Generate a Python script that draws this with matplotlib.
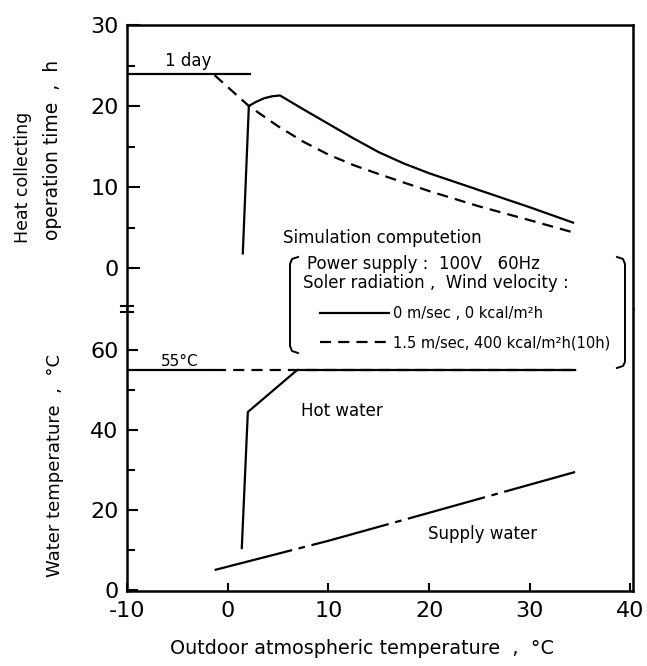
import matplotlib
matplotlib.use("Agg")
import matplotlib.pyplot as plt
from matplotlib.lines import Line2D

plt.rcParams["axes.unicode_minus"] = False

# operation time (h) vs outdoor temperature (deg C)
time_calm_x = [1.5, 2.1, 2.8, 3.6, 4.4, 5.2, 7.5, 10, 12.5, 15, 17.5, 20, 25, 30, 34.3]
time_calm_y = [1.8, 20.0, 20.5, 20.95, 21.2, 21.3, 19.6, 17.8, 16.0, 14.3, 12.9, 11.7, 9.6, 7.5, 5.6]
time_wind_x = [-1.3, 2.1, 5, 7.5, 10, 12.5, 15, 20, 25, 30, 34.3]
time_wind_y = [23.8, 20.0, 17.5, 15.6, 14.0, 12.7, 11.6, 9.5, 7.6, 5.9, 4.4]
one_day_x = [-10, 2.2]
one_day_y = [24, 24]

# water temperature (deg C)
hot_calm_x = [1.4, 2.0, 6.9, 34.5]
hot_calm_y = [10.5, 44.5, 55, 55]
hot_wind_x = [-1.3, 34.5]
hot_wind_y = [55, 55]
set_point_x = [-10, -1.4]
set_point_y = [55, 55]
supply_x = [-1.3, 10, 20, 34.5]
supply_y = [5.0, 12.3, 19.3, 29.5]

x_ticks = [-10, 0, 10, 20, 30, 40]
top_ticks = [0, 10, 20, 30]
bot_ticks = [0, 20, 40, 60]

W, H = 647, 666


def fx(px):
    return px / W


def fy(py):
    return 1 - py / H


fig = plt.figure(figsize=(W / 100, H / 100), dpi=100)
ax_top = fig.add_axes([fx(127), fy(309), (633 - 127) / W, (309 - 25) / H])
ax_bot = fig.add_axes([fx(127), fy(591), (633 - 127) / W, (591 - 309) / H])

dash = (0, (5, 3.2))
dashdot = (0, (36, 3, 3, 3))
lw = 1.6

# upper panel
h_calm, = ax_top.plot(time_calm_x, time_calm_y, color="black", lw=lw)
h_wind, = ax_top.plot(time_wind_x, time_wind_y, color="black", lw=lw, linestyle=dash)
ax_top.plot(one_day_x, one_day_y, color="black", lw=lw)
ax_top.text(-3.94, 24.4, "1 day", fontsize=12, ha="center", va="bottom")

# lower panel
ax_bot.plot(hot_wind_x, hot_wind_y, color="black", lw=lw, linestyle=dash)
ax_bot.plot(hot_calm_x, hot_calm_y, color="black", lw=lw)
ax_bot.plot(set_point_x, set_point_y, color="black", lw=lw)
ax_bot.plot(supply_x, supply_y, color="black", lw=lw, linestyle=dashdot)
ax_bot.text(-4.74, 55.3, "55°C", fontsize=11, ha="center", va="bottom")
ax_bot.text(11.35, 44.75, "Hot water", fontsize=12, ha="center", va="center")
ax_bot.text(25.35, 14.0, "Supply water", fontsize=12, ha="center", va="center")

for ax in (ax_top, ax_bot):
    ax.set_xlim(-10, 40.25)
    for s in ax.spines.values():
        s.set_linewidth(1.8)
    ax.tick_params(direction="in", labelsize=16, width=1.5, top=False, right=False)
    ax.tick_params(which="minor", direction="in", width=1.5, length=6)

ax_top.set_ylim(-5.06, 30)
ax_top.spines["bottom"].set_visible(False)
ax_top.set_xticks([])
ax_top.set_yticks(top_ticks)
ax_top.set_yticks([5, 15, 25], minor=True)
ax_top.tick_params(axis="y", length=9, pad=6)

ax_bot.set_ylim(-0.25, 70.25)
ax_bot.spines["top"].set_visible(False)
ax_bot.set_yticks(bot_ticks)
ax_bot.set_yticks([10, 30, 50], minor=True)
ax_bot.tick_params(axis="y", length=8, pad=6)
ax_bot.set_xticks(x_ticks)
ax_bot.tick_params(axis="x", length=6, pad=7)

# axis break marks on the left spine
for py in (306, 312):
    fig.add_artist(Line2D([fx(121), fx(133)], [fy(py), fy(py)], color="black", lw=1.5))

# axis titles
fig.text(fx(23), fy(243), "Heat collecting", rotation=90, fontsize=12.5, ha="center", va="bottom")
fig.text(fx(53), fy(240), "operation time  ,  h", rotation=90, fontsize=13.5, ha="center", va="bottom")
fig.text(fx(55), fy(577), "Water temperature  ,  °C", rotation=90, fontsize=13, ha="center", va="bottom")
fig.text(fx(170), fy(648), "Outdoor atmospheric temperature  ,  °C", fontsize=13.8, ha="left", va="center")

# legend block
fig.text(fx(283), fy(238), "Simulation computetion", fontsize=12, ha="left", va="center")
fig.text(fx(307), fy(264), "Power supply :  100V   60Hz", fontsize=12, ha="left", va="center")
fig.text(fx(303), fy(283), "Soler radiation ,  Wind velocity :", fontsize=12, ha="left", va="center")
fig.legend(
    [h_calm, h_wind],
    ["0 m/sec , 0 kcal/m²h", "1.5 m/sec, 400 kcal/m²h(10h)"],
    loc="upper left",
    bbox_to_anchor=(fx(320), fy(306)),
    frameon=False,
    fontsize=10.5,
    handlelength=4.7,
    handletextpad=0.3,
    labelspacing=1.0,
    borderpad=0,
    borderaxespad=0,
)
left_br = [(298, 257), (292, 259), (290, 264), (290, 346), (292, 351), (298, 353)]
right_br = [(617, 257), (623, 259), (625, 264), (625, 362), (623, 366), (617, 368)]
for br in (left_br, right_br):
    fig.add_artist(Line2D([fx(p[0]) for p in br], [fy(p[1]) for p in br], color="black", lw=1.4))

fig.savefig("out.png", dpi=100)
